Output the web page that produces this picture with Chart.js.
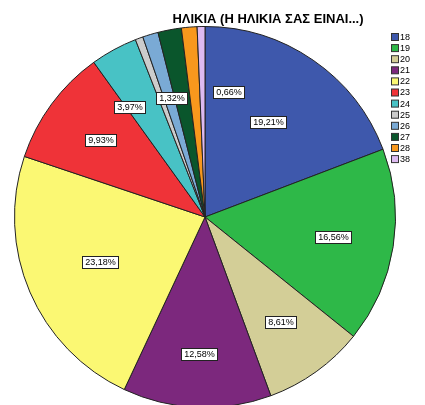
<!DOCTYPE html>
<html>
<head>
<meta charset="utf-8">
<script src="https://cdn.jsdelivr.net/npm/chart.js@4/dist/chart.umd.min.js"></script>
<style>
  html, body { margin: 0; padding: 0; background: #fff; overflow: hidden; }
  #wrap { position: absolute; left: 0; top: 0; width: 425px; height: 410px; }
</style>
</head>
<body>
<div id="wrap"><canvas id="chart" width="425" height="410"></canvas></div>
<script>
// Age categories and their share (percent of 151 answers)
var ages = ['18', '19', '20', '21', '22', '23', '24', '25', '26', '27', '28', '38'];
var percents = [19.21, 16.56, 8.61, 12.58, 23.18, 9.93, 3.97, 0.66, 1.32, 1.99, 1.32, 0.66];
var sliceColors = ['#3e58ac', '#2eb848', '#d3ce97', '#7c287d', '#fbf873', '#ef3338',
                   '#48c2c5', '#cccccc', '#7aaad5', '#0a562c', '#f8981d', '#ddbaf1'];
// which slices get a value label
var labelled = ['18', '19', '20', '21', '22', '23', '24', '26', '38'];

var titleText = 'ΗΛΙΚΙΑ (Η ΗΛΙΚΙΑ ΣΑΣ ΕΙΝΑΙ...)';

// label placement tweaks: fraction of radius, angle shift in degrees
var labelPlace = {
    '18': [0.60, -1], '22': [0.60, 0], '21': [0.72, 0], '24': [0.70, -6],
    '26': [0.65, 1], '38': [0.67, 12]
};

function fmt(v) {
    return v.toFixed(2).replace('.', ',') + '%';
}

// Draws the title, the legend and the boxed percent labels
var extras = {
    id: 'extras',
    afterDraw: function(chart) {
        var ctx = chart.ctx;
        ctx.save();

        // title
        ctx.fillStyle = '#000';
        ctx.font = 'bold 13px "Liberation Sans", Arial, sans-serif';
        ctx.textAlign = 'center';
        ctx.textBaseline = 'middle';
        ctx.fillText(titleText, 268, 19);

        // legend
        ctx.font = '9px "Liberation Sans", Arial, sans-serif';
        ctx.textAlign = 'left';
        for (var i = 0; i < ages.length; i++) {
            var y = 37 + i * 11.1;
            ctx.fillStyle = sliceColors[i];
            ctx.fillRect(391.5, y - 3.5, 7, 7);
            ctx.strokeStyle = '#333';
            ctx.lineWidth = 1;
            ctx.strokeRect(391.5, y - 3.5, 7, 7);
            ctx.fillStyle = '#000';
            ctx.fillText(ages[i], 400, y + 0.5);
        }

        // percent labels
        var meta = chart.getDatasetMeta(0);
        ctx.font = '9px "Liberation Sans", Arial, sans-serif';
        ctx.textAlign = 'center';
        meta.data.forEach(function(arc, i) {
            if (labelled.indexOf(ages[i]) < 0) return;
            var p = labelPlace[ages[i]] || [0.68, 0];
            var mid = (arc.startAngle + arc.endAngle) / 2 + p[1] * Math.PI / 180;
            var r = arc.outerRadius * p[0];
            var x = arc.x + Math.cos(mid) * r;
            var y = arc.y + Math.sin(mid) * r;
            var txt = fmt(percents[i]);
            var w = Math.round(ctx.measureText(txt).width) + 5;
            var h = 12;
            var bx = Math.round(x - w / 2) + 0.5;
            var by = Math.round(y - h / 2) + 0.5;
            ctx.fillStyle = '#fff';
            ctx.fillRect(bx, by, w, h);
            ctx.strokeStyle = '#222';
            ctx.strokeRect(bx, by, w, h);
            ctx.fillStyle = '#000';
            ctx.fillText(txt, bx + w / 2, by + h / 2 + 0.5);
        });
        ctx.restore();
    }
};

var ctx = document.getElementById('chart').getContext('2d');
var chart = new Chart(ctx, {
    type: 'pie',
    data: {
        labels: ages,
        datasets: [{
            data: percents,
            backgroundColor: sliceColors,
            borderColor: '#222',
            borderWidth: 1
        }]
    },
    options: {
        responsive: false,
        animation: false,
        layout: { padding: { left: 14, right: 29, top: 26, bottom: 2 } },
        plugins: {
            legend: { display: false },
            title: { display: false },
            tooltip: { enabled: false }
        }
    },
    plugins: [extras]
});
</script>
</body>
</html>
